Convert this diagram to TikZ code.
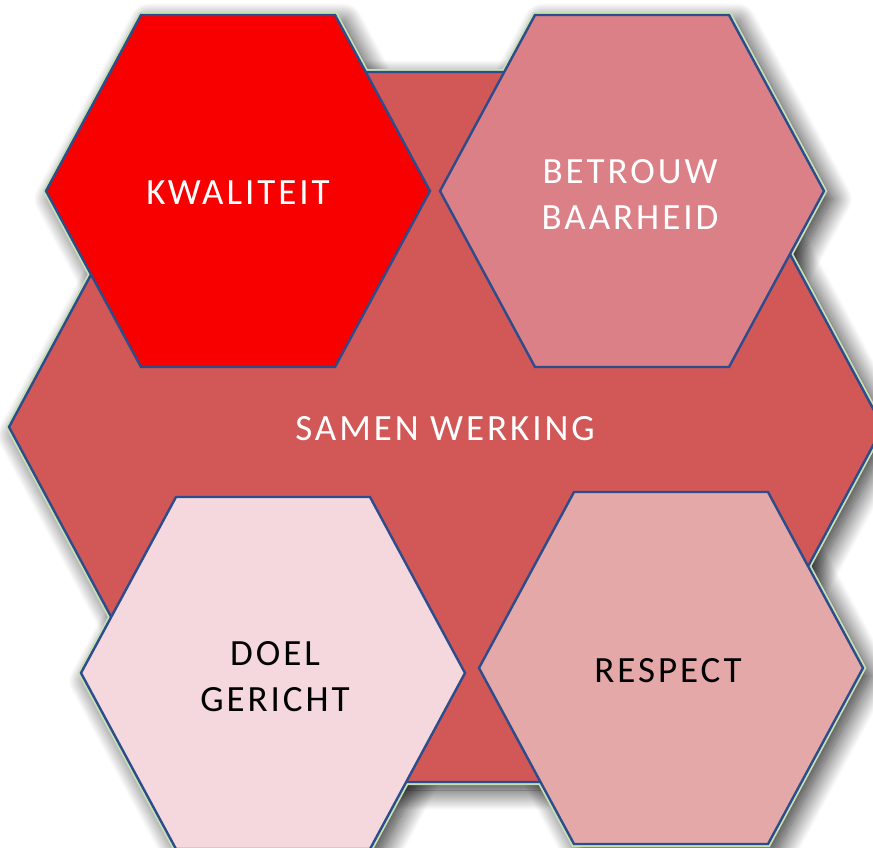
\documentclass[tikz,border=0pt]{standalone}
\usepackage{fontspec}
\newfontfamily\hexfont[LetterSpace=8]{Carlito}
\usetikzlibrary{shadows.blur}

\definecolor{hexblue}{HTML}{2C4C8C}
\definecolor{hexgreen}{HTML}{C6E0B4}
\definecolor{samenred}{HTML}{D25757}
\definecolor{kwalred}{HTML}{F80000}
\definecolor{betrouwpink}{HTML}{DC8087}
\definecolor{doelpink}{HTML}{F4D8DE}
\definecolor{respectpink}{HTML}{E5A8A8}

% hexagon: centre, half width, half height, half top edge
\newcommand{\hexa}[4]{(#1) ++(-#2,0) -- ++(#2-#4,-#3) -- ++(2*#4,0) -- ++(#2-#4,#3) -- ++(#4-#2,#3) -- ++(-2*#4,0) -- cycle}

\tikzset{
  hexline/.style={draw=hexblue, line width=2.4pt, line join=miter},
  hexglow/.style={draw=hexgreen, line width=6pt},
  hexshadow/.style={blur shadow={shadow xshift=8pt, shadow yshift=-8pt,
      shadow blur radius=20pt, shadow blur steps=24, shadow opacity=85}},
  lbl/.style={font=\hexfont\fontsize{37}{46}\selectfont, align=center, inner sep=0pt}
}

\begin{document}
\begin{tikzpicture}[x=1pt, y=-1pt]
  \useasboundingbox (0,0) rectangle (873,847);

  \coordinate (sw) at (446,427);
  \coordinate (kw) at (238,191);
  \coordinate (bt) at (632,191);
  \coordinate (dg) at (273,673);
  \coordinate (rs) at (671,668);

  % shadows and outer glow
  \path[hexshadow] \hexa{sw}{437}{355}{246};
  \path[hexshadow] \hexa{kw}{192}{176}{97};
  \path[hexshadow] \hexa{bt}{192}{176}{97};
  \path[hexshadow] \hexa{dg}{192}{176}{97};
  \path[hexshadow] \hexa{rs}{192}{176}{97};
  \draw[hexglow] \hexa{sw}{437}{355}{246};
  \draw[hexglow] \hexa{kw}{192}{176}{97};
  \draw[hexglow] \hexa{bt}{192}{176}{97};
  \draw[hexglow] \hexa{dg}{192}{176}{97};
  \draw[hexglow] \hexa{rs}{192}{176}{97};

  % hexagons
  \draw[hexline, fill=samenred] \hexa{sw}{437}{355}{246};
  \draw[hexline, fill=kwalred] \hexa{kw}{192}{176}{97};
  \draw[hexline, fill=betrouwpink] \hexa{bt}{192}{176}{97};
  \draw[hexline, fill=doelpink] \hexa{dg}{192}{176}{97};
  \draw[hexline, fill=respectpink] \hexa{rs}{192}{176}{97};

  % labels
  \node[lbl, text=white] (samen) at (445,429) {SAMEN WERKING};
  \node[lbl, text=white] (kwaliteit) at (238,193) {KWALITEIT};
  \node[lbl, text=white] (betrouw) at (630,194) {BETROUW\\BAARHEID};
  \node[lbl, text=black] (doel) at (275,677) {DOEL\\GERICHT};
  \node[lbl, text=black] (respect) at (668,671) {RESPECT};
\end{tikzpicture}
\end{document}
